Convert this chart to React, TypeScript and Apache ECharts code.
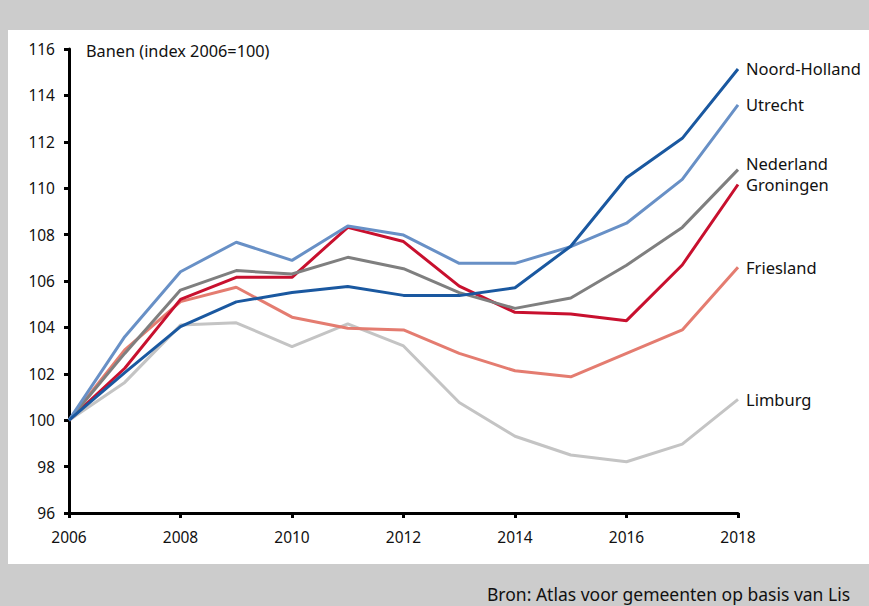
import React, { useEffect, useRef } from "react";
import * as echarts from "echarts";

const years = [2006, 2007, 2008, 2009, 2010, 2011, 2012, 2013, 2014, 2015, 2016, 2017, 2018];
const noordHolland = [100, 102.05, 104.03, 105.1, 105.5, 105.76, 105.38, 105.37, 105.71, 107.5, 110.45, 112.15, 115.14];
const utrecht = [100, 103.6, 106.4, 107.67, 106.89, 108.37, 107.98, 106.76, 106.76, 107.48, 108.49, 110.38, 113.59];
const nederland = [100, 102.88, 105.61, 106.45, 106.3, 107.02, 106.53, 105.5, 104.82, 105.27, 106.68, 108.31, 110.8];
const groningen = [100, 102.24, 105.21, 106.16, 106.16, 108.31, 107.7, 105.78, 104.65, 104.58, 104.29, 106.69, 110.16];
const friesland = [100, 103.03, 105.11, 105.73, 104.44, 103.96, 103.89, 102.88, 102.13, 101.87, 102.88, 103.89, 106.59];
const limburg = [100, 101.63, 104.1, 104.2, 103.17, 104.15, 103.2, 100.76, 99.31, 98.5, 98.21, 98.97, 100.9];
const yTicks = { min: 96, max: 116, interval: 2 };
const xTicks = { min: 2006, max: 2018, interval: 2 };

const seriesDefs = [
  { name: "Limburg", values: limburg, color: "#c4c4c4", offset: [0, 0] },
  { name: "Friesland", values: friesland, color: "#e47c70", offset: [0, 0] },
  { name: "Groningen", values: groningen, color: "#c8102e", offset: [0, 0] },
  { name: "Nederland", values: nederland, color: "#7f7f7f", offset: [0, -6] },
  { name: "Utrecht", values: utrecht, color: "#6890c6", offset: [0, 0] },
  { name: "Noord-Holland", values: noordHolland, color: "#1a58a0", offset: [0, 0] },
];

const FONT = "Noto Sans";

export default function App() {
  const ref = useRef<HTMLDivElement>(null);
  useEffect(() => {
    document.body.style.margin = "0";
    const chart = echarts.init(ref.current!, null, { renderer: "svg" });
    chart.setOption({
      animation: false,
      backgroundColor: "#cccccc",
      textStyle: { fontFamily: FONT },
      graphic: [
        {
          type: "rect",
          z: -10,
          silent: true,
          shape: { x: 8, y: 30, width: 861, height: 534 },
          style: { fill: "#ffffff" },
        },
        {
          type: "text",
          left: 487,
          top: 585,
          style: {
            text: "Bron: Atlas voor gemeenten op basis van Lis",
            fontFamily: FONT,
            fontSize: 17.5,
            fill: "#111111",
          },
        },
      ],
      title: {
        text: "Banen (index 2006=100)",
        left: 81,
        top: 38,
        textStyle: { fontFamily: FONT, fontSize: 16.3, fontWeight: "normal", color: "#111111" },
      },
      grid: { left: 69, right: 131, top: 49, bottom: 93 },
      xAxis: {
        type: "value",
        min: xTicks.min,
        max: xTicks.max,
        interval: xTicks.interval,
        axisLine: { lineStyle: { color: "#000", width: 3 } },
        axisTick: { show: true, length: 5, lineStyle: { color: "#000", width: 3 } },
        splitLine: { show: false },
        axisLabel: { color: "#111", fontSize: 15.5, fontFamily: FONT, margin: 16, formatter: (v: number) => String(v) },
      },
      yAxis: {
        type: "value",
        min: yTicks.min,
        max: yTicks.max,
        interval: yTicks.interval,
        axisLine: { show: true, lineStyle: { color: "#000", width: 3 } },
        axisTick: { show: true, length: 5, lineStyle: { color: "#000", width: 3 } },
        splitLine: { show: false },
        axisLabel: { color: "#111", fontSize: 15.5, fontFamily: FONT, margin: 14 },
      },
      series: seriesDefs.map((s) => ({
        type: "line",
        name: s.name,
        data: years.map((y, i) => [y, s.values[i]]),
        symbol: "none",
        lineStyle: { color: s.color, width: 3 },
        itemStyle: { color: s.color },
        endLabel: {
          show: true,
          formatter: s.name,
          distance: 8,
          offset: s.offset,
          color: "#111",
          fontSize: 16.5,
          fontFamily: FONT,
        },
      })),
    });
    return () => chart.dispose();
  }, []);
  return <div ref={ref} style={{ width: 869, height: 606 }} />;
}
